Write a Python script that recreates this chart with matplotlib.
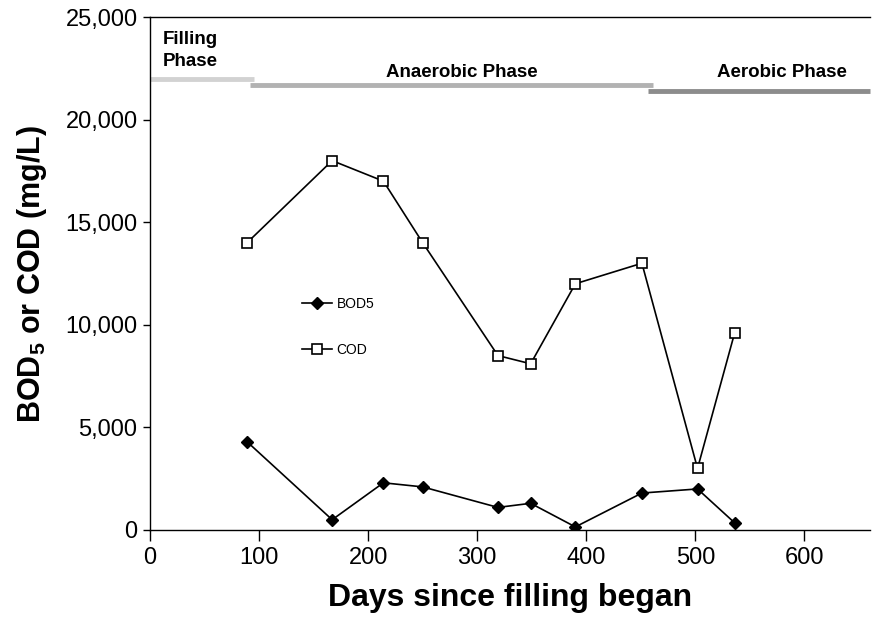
import matplotlib.pyplot as plt
from matplotlib.ticker import FuncFormatter

plt.rcParams['font.family'] = ['Liberation Sans', 'DejaVu Sans']
plt.rcParams['mathtext.default'] = 'regular'

# данные
days = [89, 167, 214, 250, 319, 349, 390, 451, 502, 536]
bod5 = [4300, 500, 2300, 2100, 1100, 1300, 150, 1800, 2000, 350]
cod = [14000, 18000, 17000, 14000, 8500, 8100, 12000, 13000, 3000, 9600]

# фазы: начало, конец, уровень линии
phase_names = ['Filling\nPhase', 'Anaerobic Phase', 'Aerobic Phase']
phase_start = [0, 92, 457]
phase_end = [95, 461, 660]
phase_level = [22000, 21700, 21400]
phase_colors = ['#d2d2d2', '#b2b2b2', '#8c8c8c']

fig = plt.figure(figsize=(8.84, 6.23), dpi=100)
ax = fig.add_axes([0.1697, 0.1493, 0.8143, 0.8234])

ax.plot(days, bod5, color='black', lw=1.2, marker='D', ms=6,
        mfc='black', mec='black', label='BOD5')
ax.plot(days, cod, color='black', lw=1.2, marker='s', ms=7,
        mfc='white', mec='black', mew=1.2, label='COD')

for s, e, lv, c in zip(phase_start, phase_end, phase_level, phase_colors):
    ax.plot([s, e], [lv, lv], color=c, lw=3.5, solid_capstyle='butt', clip_on=False)

ax.text(12, 23350, phase_names[0], fontsize=13.5, fontweight='bold',
        ha='left', va='center', linespacing=1.4)
ax.text(286, 22300, phase_names[1], fontsize=13.5, fontweight='bold',
        ha='center', va='center')
ax.text(579, 22300, phase_names[2], fontsize=13.5, fontweight='bold',
        ha='center', va='center')

ax.set_xlim(0, 660)
ax.set_ylim(0, 25000)
ax.set_xticks(range(0, 700, 100))
ax.set_yticks(range(0, 25001, 5000))
ax.yaxis.set_major_formatter(FuncFormatter(lambda v, p: f'{int(v):,}'))
ax.tick_params(axis='x', direction='out', length=8, width=1, labelsize=17, pad=4)
ax.tick_params(axis='y', direction='out', length=5, width=1, labelsize=17, pad=4)

ax.spines['right'].set_visible(False)
for sp in ['left', 'bottom', 'top']:
    ax.spines[sp].set_linewidth(1)

ax.set_xlabel('Days since filling began', fontsize=23, fontweight='bold', labelpad=10)
ax.set_ylabel('BOD$_5$ or COD (mg/L)', fontsize=22, fontweight='bold', labelpad=12)

ax.legend(loc='center left', bbox_to_anchor=(0.211, 0.396), frameon=False,
          fontsize=10, handlelength=2.2, handletextpad=0.3, labelspacing=2.3,
          borderpad=0, borderaxespad=0)

fig.savefig('out.png', dpi=100)
